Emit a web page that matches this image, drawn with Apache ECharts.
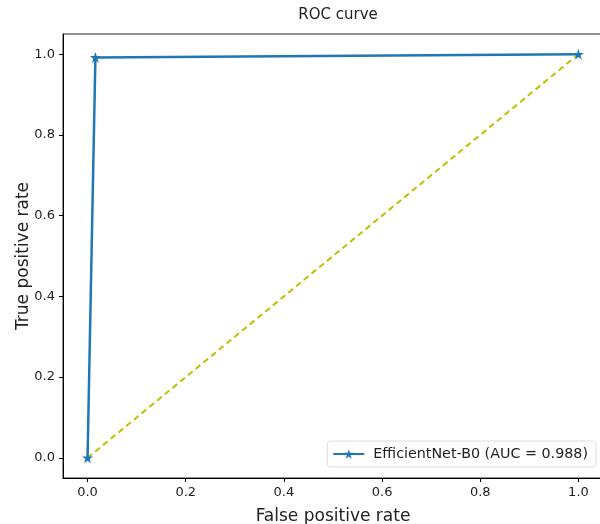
<!DOCTYPE html>
<html>
<head>
<meta charset="utf-8">
<style>
  html, body { margin: 0; padding: 0; background: #fff; }
  #chart { width: 600px; height: 524px; }
</style>
<script src="https://cdn.jsdelivr.net/npm/echarts@6/dist/echarts.min.js"></script>
</head>
<body>
<div id="chart"></div>
<script>
const fpr = [0.0, 0.016, 1.0];
const tpr = [0.0, 0.992, 1.0];
const chanceLine = [[0, 0], [1, 1]];
const tickValues = [0, 0.2, 0.4, 0.6, 0.8, 1.0];
const seriesName = 'EfficientNet-B0 (AUC = 0.988)';

const star = 'path://M0 -100 L22.45 -30.9 L95.1 -30.9 L36.3 11.8 L58.8 80.9 L0 38.2 L-58.8 80.9 L-36.3 11.8 L-95.1 -30.9 L-22.45 -30.9 Z';

const chart = echarts.init(document.getElementById('chart'));

const axisCommon = {
  type: 'value',
  min: -0.05,
  max: 1.05,
  splitLine: { show: false },
  axisLine: { show: true, onZero: false, lineStyle: { color: '#000', width: 1 } },
  axisTick: { show: true, length: 4, customValues: tickValues, lineStyle: { color: '#000' } },
  axisLabel: {
    customValues: tickValues,
    color: '#222',
    fontSize: 13,
    fontFamily: 'DejaVu Sans',
    formatter: v => v.toFixed(1)
  },
  nameLocation: 'middle',
  nameMoveOverlap: false,
  nameTextStyle: { color: '#222', fontSize: 17, fontFamily: 'DejaVu Sans' }
};

chart.setOption({
  animation: false,
  title: {
    text: 'ROC curve',
    left: 333,
    top: 3,
    textAlign: 'center',
    textStyle: { fontSize: 15, fontWeight: 'normal', color: '#222', fontFamily: 'DejaVu Sans' }
  },
  grid: {
    left: 63, top: 34, width: 540, height: 444,
    outerBoundsMode: 'none',
    containLabel: false,
    show: true, borderColor: '#222', borderWidth: 1, backgroundColor: 'transparent'
  },
  legend: {
    right: 4,
    top: 441,
    data: [seriesName],
    itemWidth: 31,
    itemHeight: 12,
    itemGap: 8,
    padding: [6, 8, 6, 5],
    borderColor: '#ddd',
    borderWidth: 1,
    borderRadius: 3,
    backgroundColor: '#fff',
    textStyle: { fontSize: 14.3, color: '#222', fontFamily: 'DejaVu Sans', padding: [0, 0, 0, 4] }
  },
  xAxis: Object.assign({}, axisCommon, {
    name: 'False positive rate',
    nameGap: 30
  }),
  yAxis: Object.assign({}, axisCommon, {
    name: 'True positive rate',
    nameGap: 31
  }),
  series: [
    {
      name: seriesName,
      type: 'line',
      data: fpr.map((x, i) => [x, tpr[i]]),
      symbol: star,
      symbolSize: 11,
      showSymbol: true,
      lineStyle: { color: '#1f77b4', width: 2.5 },
      itemStyle: { color: '#1f77b4' },
      z: 3
    },
    {
      name: 'chance',
      type: 'line',
      data: chanceLine,
      symbol: 'none',
      lineStyle: { color: '#bfbf00', width: 2, type: [6, 4] },
      z: 2
    }
  ]
});
</script>
</body>
</html>
